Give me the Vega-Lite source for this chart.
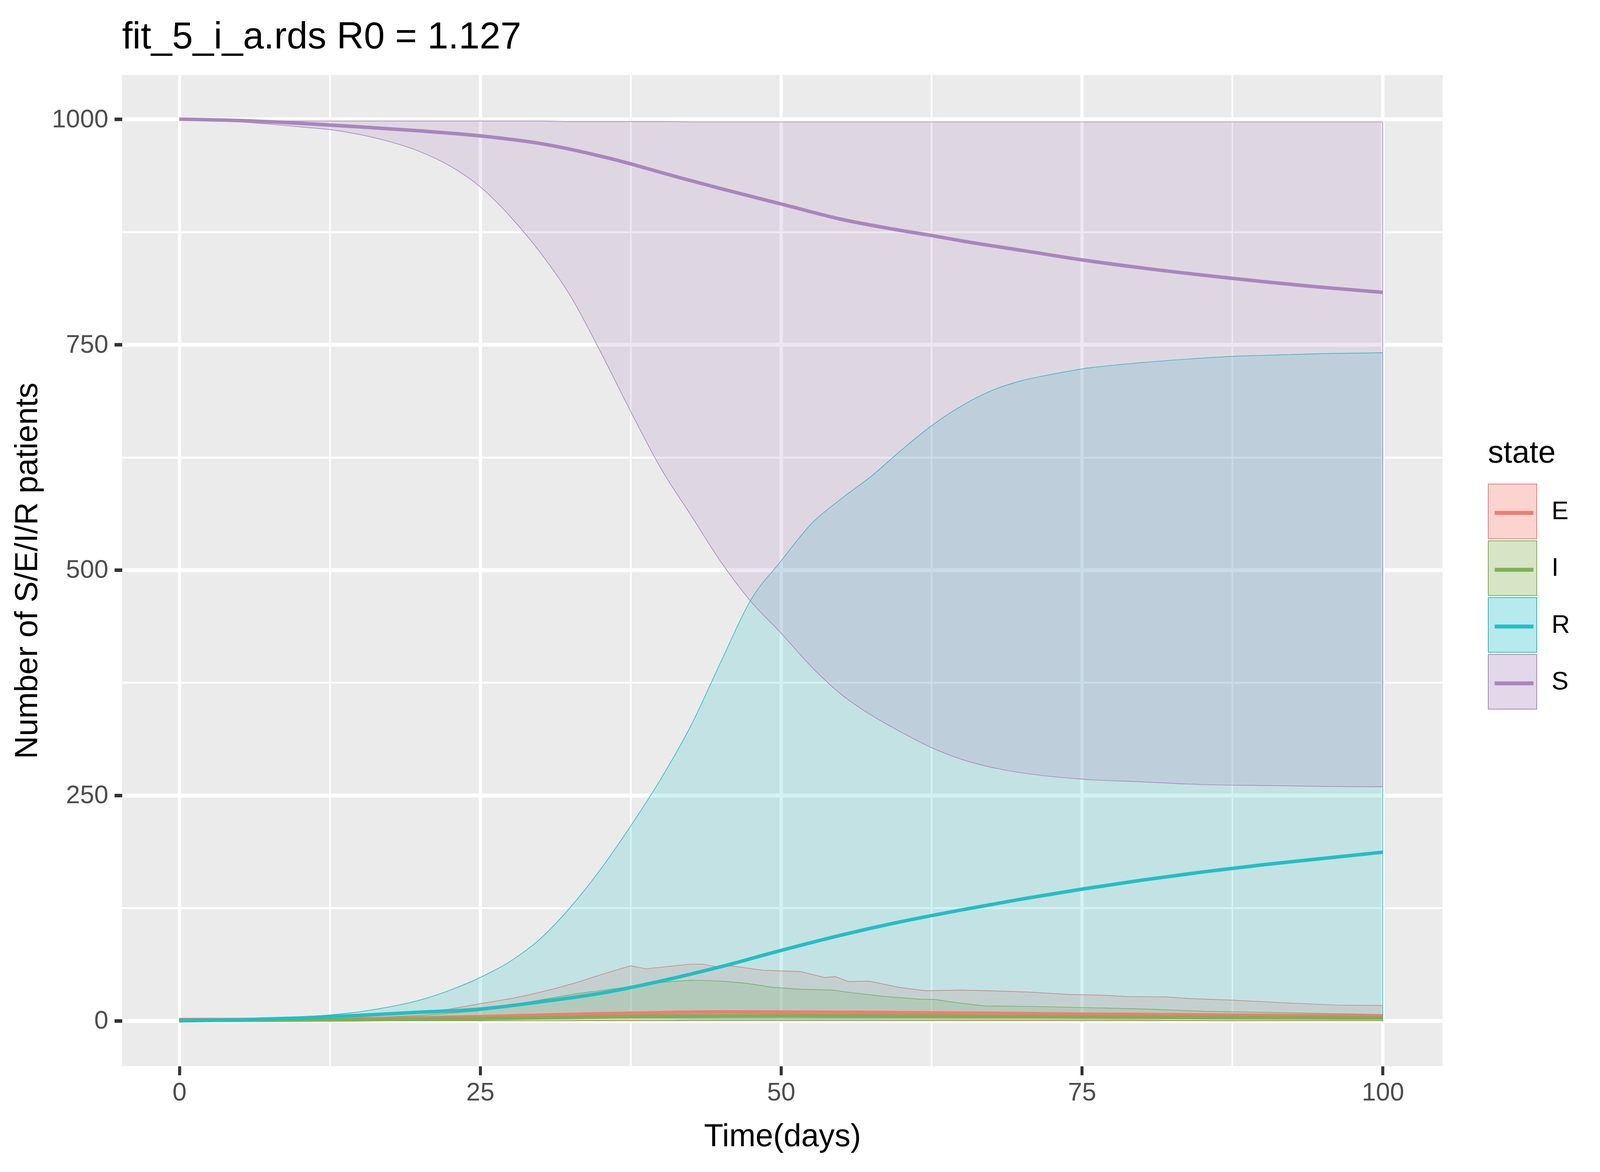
{
  "$schema": "https://vega.github.io/schema/vega-lite/v6.json",
  "width": 4096,
  "height": 3000,
  "autosize": {"type": "fit", "contains": "padding"},
  "padding": {"left": 28.4, "top": 47, "right": 403, "bottom": 51},
  "background": "white",
  "title": {"text": "fit_5_i_a.rds R0 = 1.127", "anchor": "start", "frame": "group", "fontSize": 96, "font": "Liberation Sans", "fontWeight": "normal", "color": "#000000", "offset": 48},
  "datasets": {
    "bands": [
      {"state": "E", "t": 0, "lo": 0, "hi": 3}, {"state": "E", "t": 2.5, "lo": 0, "hi": 3}, {"state": "E", "t": 5, "lo": 0, "hi": 3}, {"state": "E", "t": 7.5, "lo": 0, "hi": 3.2}, {"state": "E", "t": 10, "lo": 0, "hi": 3.5}, {"state": "E", "t": 12.5, "lo": 0, "hi": 4}, {"state": "E", "t": 15, "lo": 0, "hi": 5.5}, {"state": "E", "t": 17.5, "lo": 0, "hi": 7.7}, {"state": "E", "t": 20, "lo": 0, "hi": 9.5}, {"state": "E", "t": 22.5, "lo": 0, "hi": 13}, {"state": "E", "t": 25, "lo": 0, "hi": 19}, {"state": "E", "t": 27.5, "lo": 0, "hi": 24.5}, {"state": "E", "t": 29, "lo": 0, "hi": 28.6}, {"state": "E", "t": 31, "lo": 0, "hi": 35}, {"state": "E", "t": 33, "lo": 0.5, "hi": 42.4}, {"state": "E", "t": 35, "lo": 0.5, "hi": 51}, {"state": "E", "t": 37.5, "lo": 0.5, "hi": 61}, {"state": "E", "t": 38.8, "lo": 0.5, "hi": 57.6}, {"state": "E", "t": 40.7, "lo": 0.5, "hi": 60.4}, {"state": "E", "t": 42.5, "lo": 1, "hi": 62.8}, {"state": "E", "t": 43.5, "lo": 1, "hi": 62.8}, {"state": "E", "t": 45, "lo": 1, "hi": 59}, {"state": "E", "t": 45.8, "lo": 1, "hi": 61}, {"state": "E", "t": 48.5, "lo": 1, "hi": 56}, {"state": "E", "t": 51.6, "lo": 1, "hi": 54.6}, {"state": "E", "t": 53.6, "lo": 1, "hi": 48}, {"state": "E", "t": 54.5, "lo": 1, "hi": 49}, {"state": "E", "t": 55.6, "lo": 1, "hi": 43.5}, {"state": "E", "t": 57.3, "lo": 1, "hi": 44}, {"state": "E", "t": 60, "lo": 1, "hi": 36.6}, {"state": "E", "t": 62, "lo": 1, "hi": 33.4}, {"state": "E", "t": 65, "lo": 1, "hi": 34}, {"state": "E", "t": 67, "lo": 1, "hi": 33.4}, {"state": "E", "t": 70.4, "lo": 1, "hi": 32}, {"state": "E", "t": 73.8, "lo": 1, "hi": 29.3}, {"state": "E", "t": 77.1, "lo": 1, "hi": 28.2}, {"state": "E", "t": 78.8, "lo": 1, "hi": 26.8}, {"state": "E", "t": 82.1, "lo": 0.5, "hi": 26.5}, {"state": "E", "t": 83.8, "lo": 0.5, "hi": 24.7}, {"state": "E", "t": 87.5, "lo": 0.5, "hi": 22.9}, {"state": "E", "t": 91.9, "lo": 0.5, "hi": 19.9}, {"state": "E", "t": 96.2, "lo": 0.5, "hi": 17.4}, {"state": "E", "t": 100, "lo": 0.5, "hi": 16.9},
      {"state": "I", "t": 0, "lo": 0, "hi": 1}, {"state": "I", "t": 5, "lo": 0, "hi": 1.2}, {"state": "I", "t": 10, "lo": 0, "hi": 1.5}, {"state": "I", "t": 15, "lo": 0, "hi": 3}, {"state": "I", "t": 20, "lo": 0, "hi": 6}, {"state": "I", "t": 25, "lo": 0, "hi": 11}, {"state": "I", "t": 29, "lo": 0, "hi": 20.8}, {"state": "I", "t": 33, "lo": 0, "hi": 30}, {"state": "I", "t": 37.5, "lo": 0, "hi": 38}, {"state": "I", "t": 40.4, "lo": 0, "hi": 43}, {"state": "I", "t": 42.5, "lo": 0, "hi": 45}, {"state": "I", "t": 43.9, "lo": 0, "hi": 44.6}, {"state": "I", "t": 45.3, "lo": 0, "hi": 43.8}, {"state": "I", "t": 47.1, "lo": 0, "hi": 41.6}, {"state": "I", "t": 49.2, "lo": 0, "hi": 37.3}, {"state": "I", "t": 51.6, "lo": 0, "hi": 35}, {"state": "I", "t": 54.3, "lo": 0, "hi": 34}, {"state": "I", "t": 55.6, "lo": 0, "hi": 31.6}, {"state": "I", "t": 58.3, "lo": 0, "hi": 27.3}, {"state": "I", "t": 61.7, "lo": 0, "hi": 23.7}, {"state": "I", "t": 62.7, "lo": 0, "hi": 23.7}, {"state": "I", "t": 65, "lo": 0, "hi": 19.3}, {"state": "I", "t": 67, "lo": 0, "hi": 16.4}, {"state": "I", "t": 70.4, "lo": 0, "hi": 16}, {"state": "I", "t": 75.1, "lo": 0, "hi": 14.7}, {"state": "I", "t": 80.1, "lo": 0, "hi": 13.1}, {"state": "I", "t": 85.2, "lo": 0, "hi": 10.5}, {"state": "I", "t": 89.9, "lo": 0, "hi": 9.5}, {"state": "I", "t": 95.9, "lo": 0, "hi": 7.9}, {"state": "I", "t": 100, "lo": 0, "hi": 7},
      {"state": "R", "t": 0, "lo": 0, "hi": 0}, {"state": "R", "t": 2.5, "lo": 0, "hi": 0.3}, {"state": "R", "t": 5, "lo": 0, "hi": 1}, {"state": "R", "t": 7.5, "lo": 0, "hi": 2.3}, {"state": "R", "t": 10, "lo": 0, "hi": 4}, {"state": "R", "t": 12.5, "lo": 0, "hi": 6.5}, {"state": "R", "t": 15, "lo": 0, "hi": 10}, {"state": "R", "t": 17.5, "lo": 0, "hi": 15.5}, {"state": "R", "t": 20, "lo": 0, "hi": 23}, {"state": "R", "t": 22.5, "lo": 0.5, "hi": 34}, {"state": "R", "t": 25, "lo": 1, "hi": 48}, {"state": "R", "t": 27.5, "lo": 2, "hi": 66}, {"state": "R", "t": 30, "lo": 3, "hi": 91}, {"state": "R", "t": 32.5, "lo": 3, "hi": 126}, {"state": "R", "t": 35, "lo": 3, "hi": 168}, {"state": "R", "t": 37.5, "lo": 3, "hi": 216}, {"state": "R", "t": 40, "lo": 3, "hi": 268}, {"state": "R", "t": 42.5, "lo": 3, "hi": 327}, {"state": "R", "t": 45, "lo": 3, "hi": 398}, {"state": "R", "t": 47.5, "lo": 3, "hi": 467}, {"state": "R", "t": 50, "lo": 3, "hi": 510}, {"state": "R", "t": 52.5, "lo": 3, "hi": 551}, {"state": "R", "t": 55, "lo": 3, "hi": 579}, {"state": "R", "t": 57.5, "lo": 3, "hi": 604}, {"state": "R", "t": 60, "lo": 3, "hi": 633}, {"state": "R", "t": 62.5, "lo": 3, "hi": 660}, {"state": "R", "t": 65, "lo": 3, "hi": 682}, {"state": "R", "t": 67.5, "lo": 3, "hi": 699}, {"state": "R", "t": 70, "lo": 3, "hi": 710}, {"state": "R", "t": 72.5, "lo": 3, "hi": 717}, {"state": "R", "t": 75, "lo": 3, "hi": 723}, {"state": "R", "t": 80, "lo": 3, "hi": 730}, {"state": "R", "t": 85, "lo": 3, "hi": 735}, {"state": "R", "t": 87.5, "lo": 3, "hi": 737}, {"state": "R", "t": 90, "lo": 3, "hi": 738}, {"state": "R", "t": 95, "lo": 3, "hi": 740}, {"state": "R", "t": 100, "lo": 3, "hi": 741},
      {"state": "S", "t": 0, "lo": 1000, "hi": 1000}, {"state": "S", "t": 2.5, "lo": 999, "hi": 999.5}, {"state": "S", "t": 5, "lo": 997, "hi": 999}, {"state": "S", "t": 7.5, "lo": 994.5, "hi": 998.5}, {"state": "S", "t": 10, "lo": 991.5, "hi": 998}, {"state": "S", "t": 12.5, "lo": 988.5, "hi": 998}, {"state": "S", "t": 15, "lo": 983, "hi": 998}, {"state": "S", "t": 17.5, "lo": 975, "hi": 998}, {"state": "S", "t": 20, "lo": 964, "hi": 998}, {"state": "S", "t": 22.5, "lo": 948, "hi": 998}, {"state": "S", "t": 25, "lo": 925, "hi": 998}, {"state": "S", "t": 27.5, "lo": 892, "hi": 998}, {"state": "S", "t": 30, "lo": 852, "hi": 998}, {"state": "S", "t": 32.5, "lo": 804, "hi": 997.5}, {"state": "S", "t": 35, "lo": 742, "hi": 997.5}, {"state": "S", "t": 37.5, "lo": 676, "hi": 997.5}, {"state": "S", "t": 40, "lo": 613, "hi": 997.5}, {"state": "S", "t": 42.5, "lo": 561, "hi": 997}, {"state": "S", "t": 45, "lo": 509, "hi": 997}, {"state": "S", "t": 47.5, "lo": 465, "hi": 997}, {"state": "S", "t": 50, "lo": 430, "hi": 997}, {"state": "S", "t": 52.5, "lo": 393, "hi": 997}, {"state": "S", "t": 55, "lo": 362, "hi": 997}, {"state": "S", "t": 57.5, "lo": 339, "hi": 997}, {"state": "S", "t": 60, "lo": 320, "hi": 997}, {"state": "S", "t": 62.5, "lo": 303, "hi": 997}, {"state": "S", "t": 65, "lo": 290, "hi": 997}, {"state": "S", "t": 67.5, "lo": 281, "hi": 997}, {"state": "S", "t": 70, "lo": 275, "hi": 997}, {"state": "S", "t": 75, "lo": 268, "hi": 997}, {"state": "S", "t": 80, "lo": 265, "hi": 997}, {"state": "S", "t": 85, "lo": 262, "hi": 997}, {"state": "S", "t": 90, "lo": 261, "hi": 997}, {"state": "S", "t": 95, "lo": 260, "hi": 997}, {"state": "S", "t": 100, "lo": 259.6, "hi": 997}
    ],
    "means": [
      {"state": "E", "t": 0, "v": 1}, {"state": "E", "t": 5, "v": 1.2}, {"state": "E", "t": 10, "v": 1.5}, {"state": "E", "t": 15, "v": 2.2}, {"state": "E", "t": 20, "v": 3.2}, {"state": "E", "t": 25, "v": 4.5}, {"state": "E", "t": 30, "v": 6.2}, {"state": "E", "t": 35, "v": 7.8}, {"state": "E", "t": 40, "v": 9}, {"state": "E", "t": 45, "v": 9.8}, {"state": "E", "t": 50, "v": 9.7}, {"state": "E", "t": 55, "v": 9.4}, {"state": "E", "t": 60, "v": 9}, {"state": "E", "t": 65, "v": 8.5}, {"state": "E", "t": 70, "v": 8}, {"state": "E", "t": 75, "v": 7.3}, {"state": "E", "t": 80, "v": 6.9}, {"state": "E", "t": 85, "v": 6.5}, {"state": "E", "t": 90, "v": 6}, {"state": "E", "t": 95, "v": 5.6}, {"state": "E", "t": 100, "v": 5.2},
      {"state": "I", "t": 0, "v": 0.5}, {"state": "I", "t": 5, "v": 0.6}, {"state": "I", "t": 10, "v": 0.8}, {"state": "I", "t": 15, "v": 1.2}, {"state": "I", "t": 20, "v": 1.8}, {"state": "I", "t": 25, "v": 2.5}, {"state": "I", "t": 30, "v": 3.3}, {"state": "I", "t": 35, "v": 4.3}, {"state": "I", "t": 40, "v": 5.1}, {"state": "I", "t": 45, "v": 5.6}, {"state": "I", "t": 50, "v": 5.7}, {"state": "I", "t": 55, "v": 5.5}, {"state": "I", "t": 60, "v": 5.2}, {"state": "I", "t": 65, "v": 4.8}, {"state": "I", "t": 70, "v": 4.5}, {"state": "I", "t": 75, "v": 4.2}, {"state": "I", "t": 80, "v": 3.9}, {"state": "I", "t": 85, "v": 3.7}, {"state": "I", "t": 90, "v": 3.5}, {"state": "I", "t": 95, "v": 3.3}, {"state": "I", "t": 100, "v": 3.2},
      {"state": "R", "t": 0, "v": 0}, {"state": "R", "t": 5, "v": 1}, {"state": "R", "t": 10, "v": 3}, {"state": "R", "t": 15, "v": 6}, {"state": "R", "t": 20, "v": 9.5}, {"state": "R", "t": 25, "v": 13}, {"state": "R", "t": 30, "v": 21}, {"state": "R", "t": 35, "v": 30.5}, {"state": "R", "t": 40, "v": 44}, {"state": "R", "t": 45, "v": 60}, {"state": "R", "t": 50, "v": 78}, {"state": "R", "t": 55, "v": 95}, {"state": "R", "t": 60, "v": 110}, {"state": "R", "t": 65, "v": 123}, {"state": "R", "t": 70, "v": 135}, {"state": "R", "t": 75, "v": 146}, {"state": "R", "t": 80, "v": 156}, {"state": "R", "t": 85, "v": 165}, {"state": "R", "t": 90, "v": 173}, {"state": "R", "t": 95, "v": 180}, {"state": "R", "t": 100, "v": 187},
      {"state": "S", "t": 0, "v": 1000}, {"state": "S", "t": 5, "v": 998.5}, {"state": "S", "t": 10, "v": 995.5}, {"state": "S", "t": 15, "v": 991.5}, {"state": "S", "t": 20, "v": 987}, {"state": "S", "t": 25, "v": 981.5}, {"state": "S", "t": 30, "v": 973}, {"state": "S", "t": 35, "v": 959}, {"state": "S", "t": 37.5, "v": 950.5}, {"state": "S", "t": 40, "v": 941}, {"state": "S", "t": 45, "v": 923}, {"state": "S", "t": 50, "v": 906}, {"state": "S", "t": 55, "v": 889}, {"state": "S", "t": 60, "v": 876.5}, {"state": "S", "t": 62.5, "v": 871}, {"state": "S", "t": 65, "v": 865}, {"state": "S", "t": 70, "v": 854.5}, {"state": "S", "t": 75, "v": 844}, {"state": "S", "t": 80, "v": 835}, {"state": "S", "t": 87.5, "v": 823.5}, {"state": "S", "t": 95, "v": 813.5}, {"state": "S", "t": 100, "v": 808}
    ]
  },
  "layer": [
    {
      "data": {"name": "bands"},
      "transform": [{"filter": "datum.state === 'E' || datum.state === 'I'"}],
      "mark": {"type": "area", "fillOpacity": 0.2, "strokeOpacity": 1, "strokeWidth": 1.7, "interpolate": "linear"},
      "encoding": {
        "x": {"field": "t", "type": "quantitative", "scale": {"domain": [-4.76, 104.97], "nice": false, "zero": false},
              "axis": {"orient": "bottom", "values": [12.5, 37.5, 62.5, 87.5], "grid": true, "gridWidth": 4.3, "gridColor": "#FFFFFF", "labels": false, "ticks": false, "domain": false, "title": null}},
        "y": {"field": "lo", "type": "quantitative", "scale": {"domain": [-50.3, 1049], "nice": false, "zero": false},
              "axis": {"orient": "left", "values": [125, 375, 625, 875], "grid": true, "gridWidth": 5, "gridColor": "#FFFFFF", "labels": false, "ticks": false, "domain": false, "title": null}},
        "y2": {"field": "hi"},
        "fill": {"field": "state", "type": "nominal",
                 "scale": {"domain": ["E", "I", "R", "S"], "range": ["#F37B71", "#80B050", "#22BEC4", "#A985BE"]},
                 "legend": {"title": "state", "orient": "none", "legendX": {"expr": "width + 116"}, "legendY": 929, "padding": 0,
                            "titleFontSize": 80, "titleFontWeight": "normal", "titleColor": "#000000", "titlePadding": 45,
                            "labelFontSize": 65, "labelColor": "#000000", "labelOffset": 37,
                            "symbolType": "M-1,-1.13H1V1.13H-1Z", "symbolSize": 15376, "rowPadding": -4.6, "symbolStrokeWidth": 2,
                            "encode": {"symbols": {"update": {"fillOpacity": {"value": 0.33}, "stroke": {"scale": "fill", "field": "value"}, "strokeWidth": {"value": 2}, "strokeOpacity": {"value": 1}, "opacity": {"value": 1}}}}}},
        "stroke": {"field": "state", "type": "nominal",
                   "scale": {"range": ["#F37B71", "#80B050", "#22BEC4", "#A985BE"]},
                   "legend": {"title": null, "orient": "none", "legendX": {"expr": "width + 116"}, "legendY": 1054, "padding": 0,
                              "labelExpr": "''", "labelFontSize": 65, "labelOffset": 37,
                              "symbolType": "M-1,-0.871M1,0.871M-0.8,0H0.8", "symbolSize": 15376, "rowPadding": -4.6, "symbolStrokeWidth": 10,
                              "encode": {"symbols": {"update": {"fill": {"value": "transparent"}, "fillOpacity": {"value": 0}, "strokeWidth": {"value": 10}, "strokeOpacity": {"value": 1}, "opacity": {"value": 1}}}}}}
      }
    },
    {
      "data": {"name": "bands"},
      "transform": [{"filter": "datum.state === 'R' || datum.state === 'S'"}],
      "mark": {"type": "area", "fillOpacity": 0.2, "strokeOpacity": 1, "strokeWidth": 1.7, "interpolate": "monotone"},
      "encoding": {
        "x": {"field": "t", "type": "quantitative", "axis": null},
        "y": {"field": "lo", "type": "quantitative", "axis": null},
        "y2": {"field": "hi"},
        "fill": {"field": "state", "type": "nominal"},
        "stroke": {"field": "state", "type": "nominal"}
      }
    },
    {
      "data": {"name": "means"},
      "mark": {"type": "line", "strokeWidth": 9, "interpolate": "monotone"},
      "encoding": {
        "x": {"field": "t", "type": "quantitative",
              "axis": {"orient": "bottom", "values": [0, 25, 50, 75, 100], "format": "d", "grid": true, "gridWidth": 8.5, "gridColor": "#FFFFFF", "domain": false, "tickSize": 23, "tickWidth": 7.7, "labelPadding": 13, "labelFlush": false, "labelOverlap": false, "title": "Time(days)", "titlePadding": 40}},
        "y": {"field": "v", "type": "quantitative",
              "axis": {"orient": "left", "values": [0, 250, 500, 750, 1000], "format": "d", "grid": true, "gridWidth": 10, "gridColor": "#FFFFFF", "domain": false, "tickSize": 19.6, "tickWidth": 9, "labelPadding": 16, "labelOverlap": false, "title": "Number of S/E/I/R patients", "titlePadding": 21}},
        "stroke": {"field": "state", "type": "nominal"}
      }
    }
  ],
  "resolve": {"axis": {"x": "independent", "y": "independent"}},
  "config": {
    "font": "Liberation Sans",
    "view": {"fill": "#EBEBEB", "stroke": null},
    "axis": {"labelFont": "Liberation Sans", "titleFont": "Liberation Sans", "labelFontSize": 65, "labelColor": "#4D4D4D", "tickColor": "#333333", "titleFontSize": 81, "titleFontWeight": "normal", "titleColor": "#000000"},
    "legend": {"labelFont": "Liberation Sans", "titleFont": "Liberation Sans"},
    "title": {"font": "Liberation Sans"}
  }
}
